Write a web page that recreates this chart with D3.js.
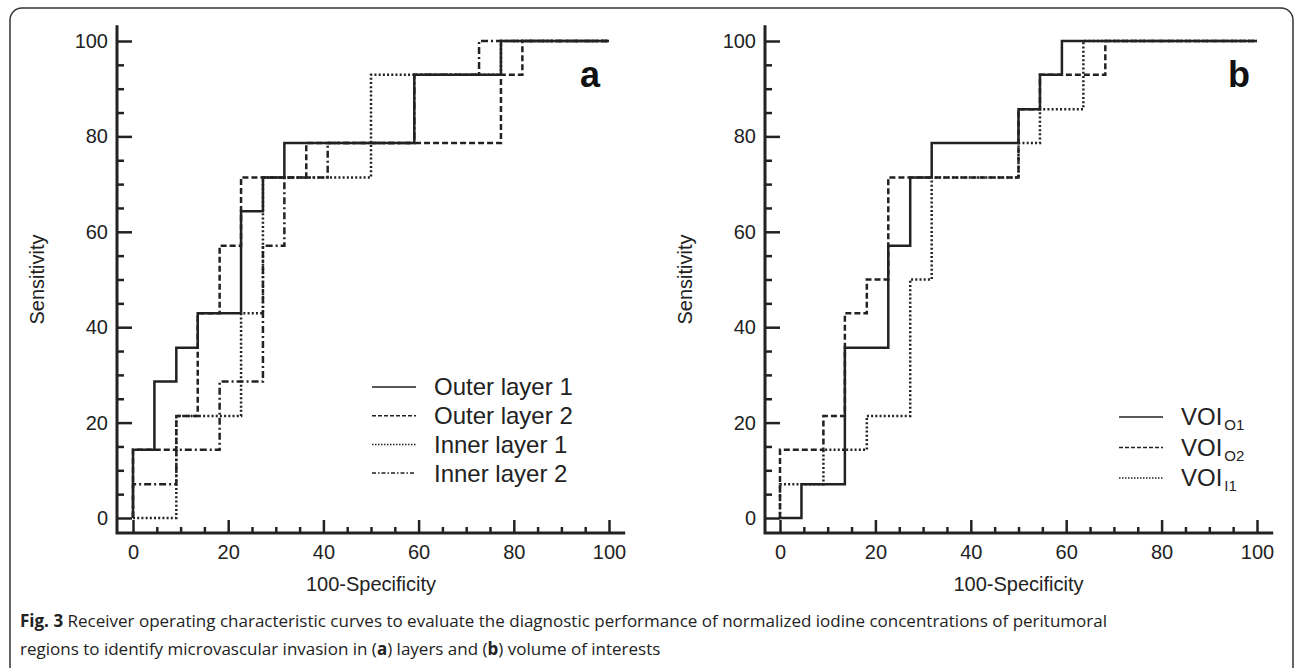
<!DOCTYPE html>
<html>
<head>
<meta charset="utf-8">
<script src="https://cdn.jsdelivr.net/npm/d3@7"></script>
<style>
  body { margin: 0; background: #fff; }
  svg { display: block; }
  .axis text { font-family: "Liberation Sans", Arial, sans-serif; font-size: 20px; fill: #222; }
  .axis line { stroke: #222; stroke-width: 2.5; }
</style>
</head>
<body>
<svg width="1295" height="668"></svg>
<script>
// panel a: step corners (100-specificity, sensitivity)
const outer1X = [0, 0, 4.5, 9.1, 13.6, 22.7, 27.3, 31.8, 59.1, 77.3, 100];
const outer1Y = [0, 14.3, 28.6, 35.7, 42.9, 64.3, 71.4, 78.6, 92.9, 100, 100];
const outer2X = [0, 0, 9.1, 13.6, 18.2, 22.7, 36.4, 77.3, 81.8, 100];
const outer2Y = [0, 14.3, 21.4, 42.9, 57.1, 71.4, 78.6, 92.9, 100, 100];
const inner1X = [0, 9.1, 22.7, 27.3, 50, 77.3, 100];
const inner1Y = [0, 21.4, 42.9, 71.4, 92.9, 100, 100];
const inner2X = [0, 0, 9.1, 18.2, 27.3, 31.8, 40.9, 59.1, 72.7, 100];
const inner2Y = [0, 7.1, 14.3, 28.6, 57.1, 71.4, 78.6, 92.9, 100, 100];

// panel b
const voiO1X = [0, 4.5, 13.6, 22.7, 27.3, 31.8, 50, 54.5, 59.1, 100];
const voiO1Y = [0, 7.1, 35.7, 57.1, 71.4, 78.6, 85.7, 92.9, 100, 100];
const voiO2X = [0, 0, 9.1, 13.6, 18.2, 22.7, 50, 54.5, 68.2, 100];
const voiO2Y = [0, 14.3, 21.4, 42.9, 50, 71.4, 85.7, 92.9, 100, 100];
const voiI1X = [0, 0, 9.1, 18.2, 27.3, 31.8, 50, 54.5, 63.6, 100];
const voiI1Y = [0, 7.1, 14.3, 21.4, 50, 71.4, 78.6, 85.7, 100, 100];

const majorTicks = [0, 20, 40, 60, 80, 100];
const minorTicks = [5, 10, 15, 25, 30, 35, 45, 50, 55, 65, 70, 75, 85, 90, 95];

const dashes = { solid: null, dashed: "6,3", dotted: "2,2.2", dashdot: "7,3,2,3" };
const legendDashes = { solid: null, dashed: "4,2", dotted: "1.5,1.5", dashdot: "4,2,1.5,2" };

const svg = d3.select("svg");
const ink = "#222";

// outer frame
svg.append("rect")
   .attr("x", 10).attr("y", 8)
   .attr("width", 1283).attr("height", 672)
   .attr("rx", 12)
   .attr("fill", "none").attr("stroke", "#333").attr("stroke-width", 1.5);

const y = d3.scaleLinear().domain([0, 100]).range([518, 41]);

function panel(x0, x1, axisX, series, legend, letter) {
  const x = d3.scaleLinear().domain([0, 100]).range([x0, x1]);
  const g = svg.append("g");

  // minor ticks
  g.append("g").attr("class", "axis").attr("transform", `translate(${axisX},0)`)
   .call(d3.axisLeft(y).tickValues(minorTicks).tickSize(-7).tickFormat(""))
   .select(".domain").remove();
  g.append("g").attr("class", "axis").attr("transform", "translate(0,533)")
   .call(d3.axisBottom(x).tickValues(minorTicks).tickSize(-6).tickFormat(""))
   .select(".domain").remove();
  // major ticks
  g.append("g").attr("class", "axis").attr("transform", `translate(${axisX},0)`)
   .call(d3.axisLeft(y).tickValues(majorTicks).tickSize(-15).tickPadding(9))
   .select(".domain").remove();
  g.append("g").attr("class", "axis").attr("transform", "translate(0,533)")
   .call(d3.axisBottom(x).tickValues(majorTicks).tickSize(-13).tickPadding(12))
   .select(".domain").remove();

  // axis lines
  g.append("path")
   .attr("d", `M${axisX},${y(103.3)}V533H${x(103.4)}`)
   .attr("fill", "none").attr("stroke", ink).attr("stroke-width", 3);

  g.append("text").attr("x", (x0 + x1) / 2).attr("y", 591)
   .attr("text-anchor", "middle")
   .style("font-family", "Liberation Sans, Arial, sans-serif").style("font-size", "20px").attr("fill", ink)
   .text("100-Specificity");
  g.append("text")
   .attr("transform", `translate(${axisX - 80},${(y(0) + y(100)) / 2}) rotate(-90)`)
   .attr("text-anchor", "middle").attr("dy", "0.35em")
   .style("font-family", "Liberation Sans, Arial, sans-serif").style("font-size", "20px").attr("fill", ink)
   .text("Sensitivity");

  const line = d3.line().x(d => x(d[0])).y(d => y(d[1])).curve(d3.curveStepAfter);
  series.slice().reverse().forEach(s => {
    g.append("path")
     .datum(d3.zip(s.xs, s.ys))
     .attr("d", line)
     .attr("fill", "none").attr("stroke", ink).attr("stroke-width", 2.5)
     .attr("stroke-dasharray", dashes[s.style]);
  });

  // legend
  legend.rows.forEach((r, i) => {
    const ly = legend.y + i * legend.step;
    g.append("line")
     .attr("x1", legend.x).attr("x2", legend.x + 44).attr("y1", ly).attr("y2", ly)
     .attr("stroke", ink).attr("stroke-width", 1.5)
     .attr("stroke-dasharray", legendDashes[r.style]);
    const t = g.append("text").attr("x", legend.x + 62).attr("y", ly).attr("dy", "0.35em")
     .style("font-family", "Liberation Sans, Arial, sans-serif").style("font-size", "24px").attr("fill", ink);
    t.append("tspan").text(r.label);
    if (r.sub) t.append("tspan").attr("dx", 2).attr("dy", 5).style("font-size", "15px").text(r.sub);
  });

  g.append("text").attr("x", letter.x).attr("y", 87)
   .style("font-family", "Liberation Sans, Arial, sans-serif").style("font-size", "36px")
   .style("font-weight", "bold").attr("fill", "#111")
   .text(letter.t);
}

panel(133, 609, 117, [
  { xs: outer1X, ys: outer1Y, style: "solid" },
  { xs: outer2X, ys: outer2Y, style: "dashed" },
  { xs: inner1X, ys: inner1Y, style: "dotted" },
  { xs: inner2X, ys: inner2Y, style: "dashdot" }
], {
  x: 372, y: 387, step: 28.7,
  rows: [
    { label: "Outer layer 1", style: "solid" },
    { label: "Outer layer 2", style: "dashed" },
    { label: "Inner layer 1", style: "dotted" },
    { label: "Inner layer 2", style: "dashdot" }
  ]
}, { x: 580, t: "a" });

panel(780, 1257, 765, [
  { xs: voiO1X, ys: voiO1Y, style: "solid" },
  { xs: voiO2X, ys: voiO2Y, style: "dashed" },
  { xs: voiI1X, ys: voiI1Y, style: "dotted" }
], {
  x: 1119, y: 417, step: 30.5,
  rows: [
    { label: "VOI", sub: "O1", style: "solid" },
    { label: "VOI", sub: "O2", style: "dashed" },
    { label: "VOI", sub: "I1", style: "dotted" }
  ]
}, { x: 1228, t: "b" });

// caption
const cap = svg.append("text").attr("x", 20).attr("y", 627)
  .style("font-family", "Open Sans, sans-serif").style("font-size", "17px").attr("fill", "#222");
cap.append("tspan").style("font-weight", "bold").text("Fig. 3");
cap.append("tspan").text(" Receiver operating characteristic curves to evaluate the diagnostic performance of normalized iodine concentrations of peritumoral");
const cap2 = svg.append("text").attr("x", 20).attr("y", 655)
  .style("font-family", "Open Sans, sans-serif").style("font-size", "17px").attr("fill", "#222");
cap2.append("tspan").text("regions to identify microvascular invasion in (");
cap2.append("tspan").style("font-weight", "bold").text("a");
cap2.append("tspan").text(") layers and (");
cap2.append("tspan").style("font-weight", "bold").text("b");
cap2.append("tspan").text(") volume of interests");
</script>
</body>
</html>
